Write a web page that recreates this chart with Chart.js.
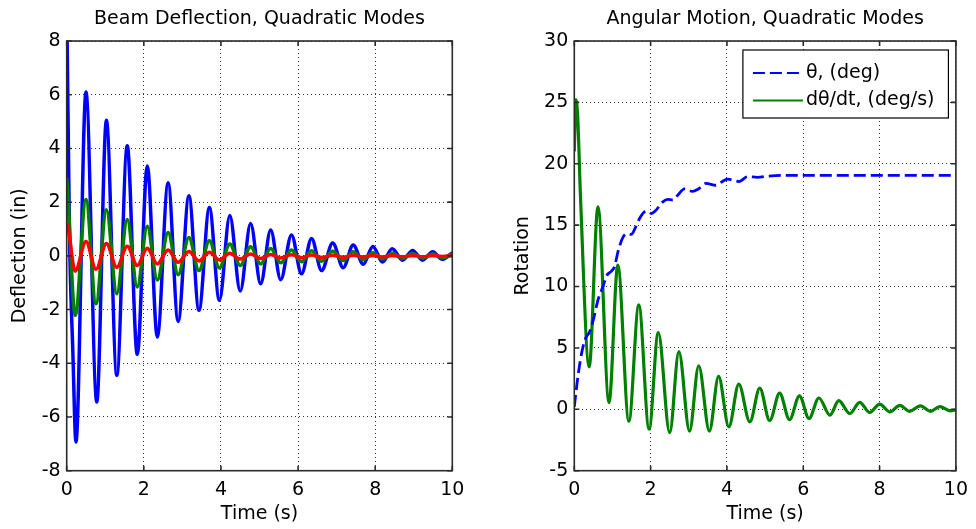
<!DOCTYPE html>
<html lang="en">
<head>
<meta charset="UTF-8">
<title>Beam Deflection / Angular Motion, Quadratic Modes</title>
<script src="https://cdn.jsdelivr.net/npm/chart.js"></script>
<style>
  body { margin: 0; background: #ffffff; }
  .wrap { position: relative; width: 976px; height: 529px; }
  canvas { position: absolute; top: 0; }
  #beamChart { left: 0; }
  #angleChart { left: 488px; }
</style>
</head>
<body>
<div class="wrap">
  <canvas id="beamChart" width="488" height="529"></canvas>
  <canvas id="angleChart" width="488" height="529"></canvas>
</div>
<script>
// tick labels
const timeTicks = [0, 2, 4, 6, 8, 10];
const deflTicks = [-8, -6, -4, -2, 0, 2, 4, 6, 8];
const rotTicks = [-5, 0, 5, 10, 15, 20, 25, 30];

// left plot: beam deflection (in), read at peaks / troughs
const mode1T = [0, 0.07, 0.16, 0.24, 0.50, 0.78, 1.03, 1.30, 1.57, 1.83, 2.09, 2.35, 2.63, 2.89, 3.17, 3.43, 3.70, 3.96, 4.23, 4.50,
                4.77, 5.03, 5.29, 5.55, 5.83, 6.09, 6.35, 6.61, 6.90, 7.17, 7.43, 7.69, 7.94, 8.19, 8.44, 8.71, 8.97, 9.23, 9.49, 9.74, 10];
const mode1Y = [9.5, 1.0, -3.6, -6.93, 6.1, -5.44, 5.05, -4.45, 4.1, -3.67, 3.35, -3.02, 2.72, -2.44, 2.24, -2.03, 1.8, -1.66, 1.5, -1.31,
                1.2, -1.04, 0.96, -0.89, 0.78, -0.67, 0.65, -0.55, 0.48, -0.44, 0.4, -0.31, 0.35, -0.23, 0.26, -0.16, 0.2, -0.16, 0.15, -0.13, 0.12];

const mode2T = [0, 0.04, 0.22, 0.50, 0.76, 1.03, 1.30, 1.57, 1.83, 2.09, 2.35, 2.63, 2.89, 3.17, 3.43, 3.70, 3.96, 4.23, 4.50,
                4.77, 5.03, 5.29, 5.55, 5.83, 6.09, 6.35, 6.61, 6.90, 7.17, 7.43, 7.69, 7.94, 8.19, 8.44, 8.71, 8.97, 9.23, 9.49, 9.74, 10];
const mode2Y = [2.9, 2.0, -2.22, 2.1, -1.78, 1.72, -1.41, 1.35, -1.16, 1.1, -0.9, 0.87, -0.7, 0.68, -0.55, 0.56, -0.45, 0.44, -0.36,
                0.34, -0.3, 0.27, -0.26, 0.22, -0.22, 0.19, -0.2, 0.17, -0.17, 0.15, -0.14, 0.12, -0.12, 0.1, -0.1, 0.09, -0.09, 0.08, -0.08, 0.07];

const mode3T = [0, 0.03, 0.22, 0.50, 0.76, 1.03, 1.30, 1.57, 1.83, 2.09, 2.35, 2.63, 2.89, 3.17, 3.43, 3.70, 3.96, 4.23, 4.50,
                4.77, 5.03, 5.29, 5.55, 5.83, 6.09, 6.35, 6.61, 6.90, 7.17, 7.43, 7.69, 7.94, 8.19, 8.44, 8.71, 8.97, 9.23, 9.49, 9.74, 10];
const mode3Y = [1.2, 1.1, -0.57, 0.53, -0.5, 0.46, -0.43, 0.36, -0.36, 0.28, -0.3, 0.22, -0.24, 0.16, -0.19, 0.13, -0.15, 0.1, -0.12,
                0.07, -0.1, 0.05, -0.08, 0.04, -0.07, 0.03, -0.06, 0.02, -0.05, 0.02, -0.04, 0.01, -0.04, 0.01, -0.03, 0.01, -0.03, 0.01, -0.02, 0];

// right plot: rotation
const thetaT = [0, 0.1, 0.2, 0.3, 0.4, 0.5, 0.62, 0.75, 0.85, 0.95, 1.05, 1.15, 1.28, 1.4, 1.5, 1.6, 1.71, 1.89, 2.02, 2.12,
                2.32, 2.45, 2.58, 2.7, 2.89, 3.1, 3.25, 3.45, 3.71, 3.85, 4.02, 4.32, 4.54, 4.8, 5.1, 5.5, 6, 7, 8, 9, 10];
const thetaY = [0.2, 2.8, 4.7, 5.8, 6.3, 7.3, 8.9, 10.0, 10.9, 11.2, 11.6, 12.9, 14.05, 14.3, 14.25, 14.8, 15.55, 16.15, 15.95, 16.15,
                16.9, 17.1, 17.05, 17.4, 17.95, 17.75, 17.95, 18.4, 18.25, 18.5, 18.75, 18.55, 18.95, 18.9, 19.0, 19.05, 19.05, 19.05, 19.05, 19.05, 19.05];

const thetaDotT = [0, 0.04, 0.09, 0.16, 0.39, 0.62, 0.91, 1.14, 1.43, 1.69, 1.96, 2.2, 2.5, 2.74, 3.02, 3.26, 3.54, 3.78, 4.05, 4.31,
                   4.6, 4.86, 5.12, 5.38, 5.64, 5.9, 6.15, 6.41, 6.7, 6.93, 7.22, 7.48, 7.74, 8.0, 8.27, 8.53, 8.79, 9.07, 9.33, 9.58, 9.85, 10];
const thetaDotY = [21, 25.2, 23.8, 17.5, 3.45, 16.5, 0.55, 11.75, -0.97, 8.5, -1.62, 6.25, -1.9, 4.7, -1.78, 3.55, -1.78, 2.68, -1.43, 2.05,
                   -1.02, 1.72, -0.92, 1.32, -0.85, 1.1, -0.75, 0.92, -0.48, 0.7, -0.34, 0.56, -0.26, 0.43, -0.21, 0.32, -0.16, 0.28, -0.16, 0.22, -0.12, -0.05];

const pts = (t, y) => t.map((x, i) => ({ x: x, y: y[i] }));
const FONT = '"DejaVu Sans", sans-serif';

Chart.defaults.font.family = FONT;
Chart.defaults.font.size = 19;
Chart.defaults.color = '#000';

// box around the axes, inward ticks and a title centred on the plot area
const matlabFrame = {
  id: 'matlabFrame',
  afterDatasetsDraw(chart) {
    const { ctx, chartArea: a, scales } = chart;
    ctx.save();
    ctx.strokeStyle = '#2b2b2b';
    ctx.lineWidth = 1.6;
    ctx.strokeRect(a.left, a.top, a.right - a.left, a.bottom - a.top);
    ctx.beginPath();
    scales.x.ticks.forEach(t => {
      const px = scales.x.getPixelForValue(t.value);
      ctx.moveTo(px, a.bottom); ctx.lineTo(px, a.bottom - 5);
      ctx.moveTo(px, a.top); ctx.lineTo(px, a.top + 5);
    });
    scales.y.ticks.forEach(t => {
      const py = scales.y.getPixelForValue(t.value);
      ctx.moveTo(a.left, py); ctx.lineTo(a.left + 5, py);
      ctx.moveTo(a.right, py); ctx.lineTo(a.right - 5, py);
    });
    ctx.stroke();
    ctx.restore();
  },
  afterDraw(chart, args, opts) {
    const { ctx, chartArea: a } = chart;
    ctx.save();
    ctx.font = '19px ' + FONT;
    ctx.fillStyle = '#000';
    ctx.textAlign = 'center';
    ctx.textBaseline = 'alphabetic';
    ctx.fillText(opts.text, (a.left + a.right) / 2, 24);
    ctx.restore();
  }
};

// legend box inside the right plot
const insideLegend = {
  id: 'insideLegend',
  afterDraw(chart) {
    const { ctx, chartArea: a } = chart;
    const x0 = a.right - 213, y0 = a.top + 9, w = 205.5, h = 68;
    ctx.save();
    ctx.fillStyle = '#fff';
    ctx.fillRect(x0, y0, w, h);
    ctx.strokeStyle = '#000';
    ctx.lineWidth = 1.2;
    ctx.strokeRect(x0, y0, w, h);
    ctx.font = '19px ' + FONT;
    ctx.textBaseline = 'middle';
    chart.data.datasets.forEach((ds, i) => {
      const y = y0 + 23 + i * 27.5;
      ctx.strokeStyle = ds.borderColor;
      ctx.lineWidth = 2;
      ctx.setLineDash(ds.borderDash || []);
      ctx.beginPath();
      ctx.moveTo(x0 + 10, y);
      ctx.lineTo(x0 + 60, y);
      ctx.stroke();
      ctx.setLineDash([]);
      ctx.fillStyle = '#000';
      ctx.fillText(ds.label, x0 + 63, y);
    });
    ctx.restore();
  }
};

function axesOptions(cfg) {
  return {
    responsive: false,
    animation: false,
    devicePixelRatio: 1,
    layout: { padding: { left: 0, right: cfg.padRight, top: 41, bottom: 0 } },
    elements: { point: { radius: 0 }, line: { cubicInterpolationMode: 'monotone' } },
    plugins: {
      legend: { display: false },
      tooltip: { enabled: false },
      matlabFrame: { text: cfg.title }
    },
    scales: {
      x: {
        type: 'linear',
        min: 0, max: 10,
        afterBuildTicks: s => { s.ticks = timeTicks.map(v => ({ value: v })); },
        afterFit: s => { s.height = 58.3; },
        ticks: { autoSkip: false, maxRotation: 0, padding: 8 },
        grid: { color: 'rgba(0,0,0,0.8)', lineWidth: 1, drawTicks: false },
        border: { display: false, dash: [1, 3] },
        title: { display: true, text: 'Time (s)', padding: { top: 0, bottom: 4 } }
      },
      y: {
        min: cfg.yMin, max: cfg.yMax,
        afterBuildTicks: s => { s.ticks = cfg.yTicks.map(v => ({ value: v })); },
        afterFit: s => { s.width = cfg.yWidth; },
        ticks: { autoSkip: false, padding: 6 },
        grid: { color: 'rgba(0,0,0,0.8)', lineWidth: 1, drawTicks: false },
        border: { display: false, dash: [1, 3] },
        title: { display: true, text: cfg.yTitle, padding: { top: cfg.yTitlePad, bottom: 0 } }
      }
    }
  };
}

new Chart(document.getElementById('beamChart'), {
  type: 'line',
  data: {
    datasets: [
      { label: 'Mode 3', data: pts(mode3T, mode3Y), borderColor: '#ff0000', borderWidth: 3.5, order: 1 },
      { label: 'Mode 2', data: pts(mode2T, mode2Y), borderColor: '#008000', borderWidth: 3.5, order: 2 },
      { label: 'Mode 1', data: pts(mode1T, mode1Y), borderColor: '#0000ff', borderWidth: 3.5, order: 3 }
    ]
  },
  options: axesOptions({
    title: 'Beam Deflection, Quadratic Modes',
    yTitle: 'Deflection (in)', yTicks: deflTicks, yMin: -8, yMax: 8,
    yWidth: 66.7, yTitlePad: 9, padRight: 35.7
  }),
  plugins: [matlabFrame]
});

new Chart(document.getElementById('angleChart'), {
  type: 'line',
  data: {
    datasets: [
      { label: '\u03B8, (deg)', data: pts(thetaT, thetaY), borderColor: '#0000ff', borderWidth: 2.8, borderDash: [12, 5], order: 1 },
      { label: 'd\u03B8/dt, (deg/s)', data: pts(thetaDotT, thetaDotY), borderColor: '#008000', borderWidth: 3.2, order: 2 }
    ]
  },
  options: axesOptions({
    title: 'Angular Motion, Quadratic Modes',
    yTitle: 'Rotation', yTicks: rotTicks, yMin: -5, yMax: 30,
    yWidth: 86.3, yTitlePad: 24, padRight: 16
  }),
  plugins: [matlabFrame, insideLegend]
});
</script>
</body>
</html>
